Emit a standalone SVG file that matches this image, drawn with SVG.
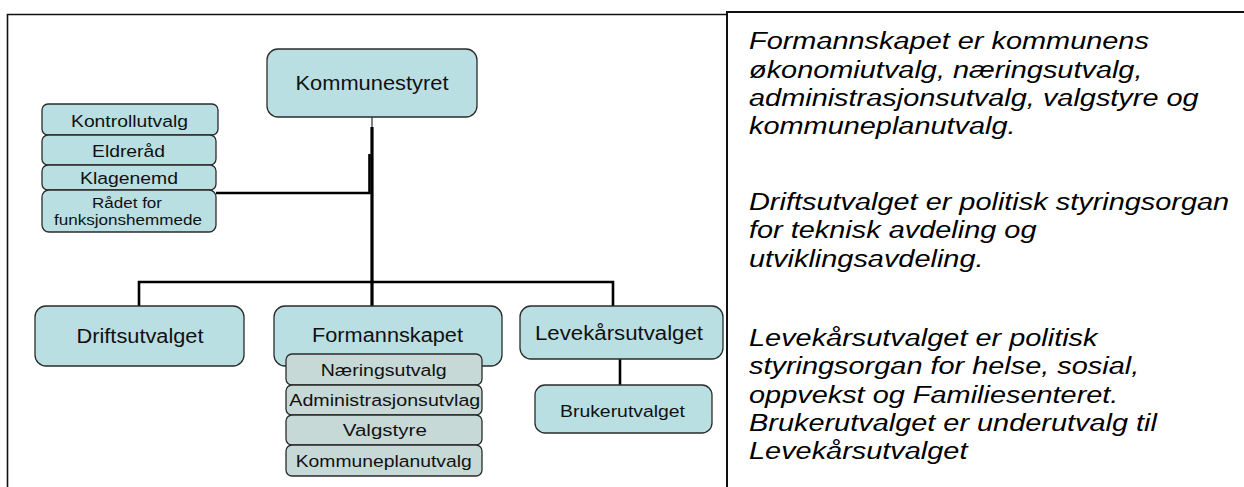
<svg xmlns="http://www.w3.org/2000/svg" width="1244" height="487" viewBox="0 0 1244 487">
<style>
.box{fill:#b9dfe3;stroke:#2b2b2b;stroke-width:1.3}
.gbox{fill:#c6d9d7;stroke:#2b2b2b;stroke-width:1.3}
.lbl{font-family:"Liberation Sans",Arial,sans-serif;font-size:19.5px;fill:#111;text-anchor:middle}
.sm{font-family:"Liberation Sans",Arial,sans-serif;font-size:17.2px;fill:#111;text-anchor:middle}
.xs{font-family:"Liberation Sans",Arial,sans-serif;font-size:15.2px;fill:#111;text-anchor:middle}
.desc{font-family:"Liberation Sans",Arial,sans-serif;font-size:24.5px;font-style:italic;fill:#000}
.frame{fill:none;stroke:#111;stroke-width:1.6}
.con{fill:none;stroke:#000;stroke-width:2.6}
</style>
<rect width="1244" height="487" fill="#fff"/>
<g id="frames">
<path class="frame" d="M7.5,487 V14.5 H727"/>
<path class="frame" d="M727,487 V12 H1244" style="stroke-width:2"/>
</g>
<g id="connectors">
<line x1="372" y1="117" x2="372" y2="128" stroke="#555" stroke-width="1.5"/>
<line class="con" x1="372" y1="127" x2="372" y2="306" style="stroke-width:3.2"/>
<path class="con" d="M216,193 H369.5 V154"/>
<path class="con" d="M139,306 V282 H613 V306"/>
<line class="con" x1="620" y1="359" x2="620" y2="385"/>
</g>
<g id="kommunestyret">
<rect class="box" x="267" y="49" width="210" height="68" rx="11"/>
<text class="lbl" x="372" y="90" textLength="153" lengthAdjust="spacingAndGlyphs">Kommunestyret</text>
</g>
<g id="kontrollutvalg">
<rect class="box" x="42" y="104" width="176" height="31" rx="6"/>
<text class="sm" x="129.5" y="126.7" textLength="117" lengthAdjust="spacingAndGlyphs">Kontrollutvalg</text>
</g>
<g id="eldrerad">
<rect class="box" x="42" y="135" width="174" height="30" rx="6"/>
<text class="sm" x="128.5" y="156.7" textLength="73" lengthAdjust="spacingAndGlyphs">Eldreråd</text>
</g>
<g id="klagenemd">
<rect class="box" x="42" y="165" width="174" height="25" rx="6"/>
<text class="sm" x="129" y="184.3" textLength="98" lengthAdjust="spacingAndGlyphs">Klagenemd</text>
</g>
<g id="radet">
<rect class="box" x="42" y="190" width="174" height="42" rx="7"/>
<text class="xs" x="127" y="208" textLength="70" lengthAdjust="spacingAndGlyphs">Rådet for</text>
<text class="xs" x="128" y="225" textLength="148" lengthAdjust="spacingAndGlyphs">funksjonshemmede</text>
</g>
<g id="driftsutvalget">
<rect class="box" x="35" y="306" width="209" height="60" rx="11"/>
<text class="lbl" x="140" y="343" textLength="127" lengthAdjust="spacingAndGlyphs">Driftsutvalget</text>
</g>
<g id="formannskapet">
<rect class="box" x="274" y="306" width="228" height="60" rx="11"/>
<text class="lbl" x="387.5" y="341.7" textLength="151" lengthAdjust="spacingAndGlyphs">Formannskapet</text>
</g>
<g id="naeringsutvalg">
<rect class="gbox" x="286" y="354" width="196" height="31" rx="6"/>
<text class="sm" x="383.7" y="376" textLength="126" lengthAdjust="spacingAndGlyphs">Næringsutvalg</text>
</g>
<g id="administrasjonsutvlag">
<rect class="gbox" x="286" y="385" width="196" height="30" rx="6"/>
<text class="sm" x="384.8" y="406" textLength="191" lengthAdjust="spacingAndGlyphs">Administrasjonsutvlag</text>
</g>
<g id="valgstyre">
<rect class="gbox" x="286" y="415" width="196" height="30" rx="6"/>
<text class="sm" x="384.8" y="436" textLength="84" lengthAdjust="spacingAndGlyphs">Valgstyre</text>
</g>
<g id="kommuneplanutvalg">
<rect class="gbox" x="286" y="445" width="196" height="31" rx="6"/>
<text class="sm" x="383.7" y="466.7" textLength="176" lengthAdjust="spacingAndGlyphs">Kommuneplanutvalg</text>
</g>
<g id="levekarsutvalget">
<rect class="box" x="520" y="306" width="203" height="53" rx="11"/>
<text class="lbl" x="619" y="340" textLength="168" lengthAdjust="spacingAndGlyphs">Levekårsutvalget</text>
</g>
<g id="brukerutvalget">
<rect class="box" x="535" y="385" width="177" height="48" rx="10"/>
<text class="sm" x="622.5" y="416.7" textLength="125" lengthAdjust="spacingAndGlyphs">Brukerutvalget</text>
</g>
<g id="description" transform="translate(749,0) scale(1.18,1)">
<text class="desc" x="0" y="49.3">Formannskapet er kommunens</text>
<text class="desc" x="0" y="77.7">økonomiutvalg, næringsutvalg,</text>
<text class="desc" x="0" y="106">administrasjonsutvalg, valgstyre og</text>
<text class="desc" x="0" y="134.3">kommuneplanutvalg.</text>
<text class="desc" x="0" y="210">Driftsutvalget er politisk styringsorgan</text>
<text class="desc" x="0" y="238.5">for teknisk avdeling og</text>
<text class="desc" x="0" y="267">utviklingsavdeling.</text>
<text class="desc" x="0" y="346">Levekårsutvalget er politisk</text>
<text class="desc" x="0" y="374.3">styringsorgan for helse, sosial,</text>
<text class="desc" x="0" y="402.7">oppvekst og Familiesenteret.</text>
<text class="desc" x="0" y="431">Brukerutvalget er underutvalg til</text>
<text class="desc" x="0" y="459.3">Levekårsutvalget</text>
</g>
</svg>
